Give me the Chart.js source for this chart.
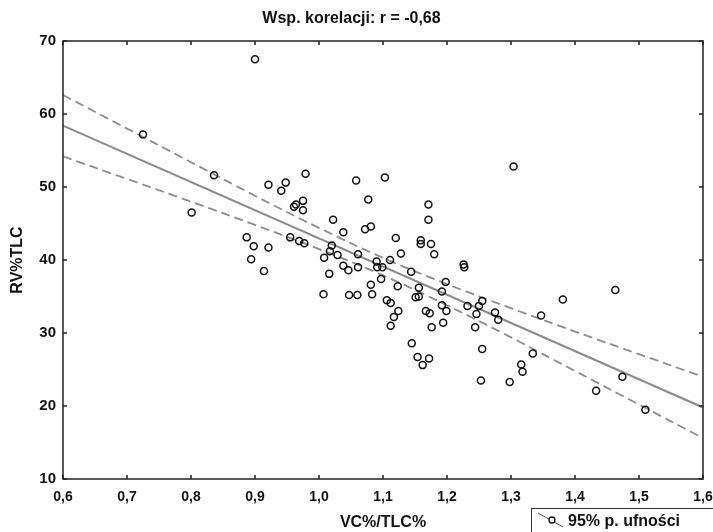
<!DOCTYPE html>
<html lang="pl">
<head>
<meta charset="utf-8">
<title>RV%TLC vs VC%/TLC%</title>
<script src="https://cdn.jsdelivr.net/npm/chart.js@4.4.1/dist/chart.umd.min.js"></script>
<style>
  body { margin: 0; background: #fff; }
  #wrap { width: 713px; height: 532px; }
</style>
</head>
<body>
<div id="wrap"><canvas id="wykres" width="713" height="532"></canvas></div>
<script>
// punkty pomiarowe
const vcTlc = [
  0.725, 0.801, 0.836, 0.887, 0.894, 0.898, 0.900, 0.914, 0.921, 0.921,
  0.941, 0.948, 0.955, 0.961, 0.964, 0.969, 0.975, 0.975, 0.977, 0.979,
  1.007, 1.008, 1.016, 1.017, 1.020, 1.022, 1.029, 1.038, 1.038, 1.046,
  1.047, 1.058, 1.060, 1.061, 1.061, 1.072, 1.077, 1.081, 1.081, 1.083,
  1.090, 1.091, 1.097, 1.099, 1.103, 1.106, 1.111, 1.112, 1.112, 1.117,
  1.120, 1.123, 1.124, 1.128, 1.144, 1.145, 1.151, 1.154, 1.156, 1.156,
  1.159, 1.159, 1.162, 1.167, 1.171, 1.171, 1.172, 1.173, 1.175, 1.176,
  1.180, 1.192, 1.192, 1.194, 1.198, 1.199, 1.226, 1.227, 1.232, 1.244,
  1.246, 1.250, 1.253, 1.255, 1.255, 1.275, 1.280, 1.298, 1.304, 1.316,
  1.318, 1.334, 1.347, 1.381, 1.433, 1.463, 1.474, 1.510
];
const rvTlc = [
  57.2, 46.5, 51.6, 43.1, 40.1, 41.9, 67.5, 38.5, 41.7, 50.3,
  49.5, 50.6, 43.1, 47.3, 47.6, 42.6, 48.1, 46.8, 42.3, 51.8,
  35.3, 40.3, 38.1, 41.2, 42.0, 45.5, 40.7, 43.8, 39.2, 38.6,
  35.2, 50.9, 35.2, 40.8, 39.0, 44.2, 48.3, 44.6, 36.6, 35.3,
  39.8, 39.0, 37.4, 39.0, 51.3, 34.5, 40.0, 34.1, 31.0, 32.2,
  43.0, 36.4, 33.0, 40.9, 38.4, 28.6, 34.9, 26.7, 36.2, 35.0,
  42.7, 42.2, 25.6, 33.0, 47.6, 45.5, 26.5, 32.7, 42.2, 30.8,
  40.8, 35.7, 33.8, 31.4, 37.0, 33.0, 39.4, 39.0, 33.7, 30.8,
  32.6, 33.7, 23.5, 34.4, 27.8, 32.8, 31.8, 23.3, 52.8, 25.7,
  24.7, 27.2, 32.4, 34.6, 22.1, 35.9, 24.0, 19.5
];

// prosta regresji
const liniaX = [0.6, 1.6];
const liniaY = [58.4, 19.8];

// 95% przedział ufności (odczyt co 0,1)
const pasmoX = [0.6, 0.7, 0.8, 0.9, 1.0, 1.1, 1.2, 1.3, 1.4, 1.5, 1.6];
const pasmoGorne = [62.6, 58.0, 53.4, 48.8, 44.4, 40.3, 36.7, 33.4, 30.2, 27.1, 24.0];
const pasmoDolne = [54.2, 51.1, 48.0, 44.8, 41.5, 37.9, 33.8, 29.4, 24.8, 20.2, 15.6];

const tytul = 'Wsp. korelacji: r = -0,68';
const tytulX = 'VC%/TLC%';
const tytulY = 'RV%TLC';
const legendaTekst = '95% p. ufności';

const czcionka = "'Liberation Sans', Arial, sans-serif";
const szary = '#8c8c8c';

const paruj = (xs, ys) => xs.map((x, i) => ({ x, y: ys[i] }));

// ramka z kreskami skierowanymi do środka + legenda na dole
const ramka = {
  id: 'ramka',
  afterDraw(chart) {
    const { ctx, chartArea: a, scales } = chart;
    ctx.save();
    ctx.strokeStyle = '#222';
    ctx.lineWidth = 1.5;
    ctx.strokeRect(a.left, a.top, a.right - a.left, a.bottom - a.top);
    ctx.beginPath();
    scales.x.ticks.forEach(t => {
      const px = scales.x.getPixelForValue(t.value);
      ctx.moveTo(px, a.bottom); ctx.lineTo(px, a.bottom - 4);
      ctx.moveTo(px, a.top); ctx.lineTo(px, a.top + 4);
    });
    scales.y.ticks.forEach(t => {
      const py = scales.y.getPixelForValue(t.value);
      ctx.moveTo(a.left, py); ctx.lineTo(a.left + 4, py);
      ctx.moveTo(a.right, py); ctx.lineTo(a.right - 4, py);
    });
    ctx.stroke();

    // legenda
    ctx.lineWidth = 1;
    ctx.strokeStyle = '#333';
    ctx.strokeRect(531.5, 508.5, 200, 40);
    ctx.strokeStyle = '#555';
    ctx.beginPath();
    ctx.moveTo(538, 513); ctx.lineTo(563, 527);
    ctx.stroke();
    ctx.fillStyle = '#fff';
    ctx.strokeStyle = '#111';
    ctx.lineWidth = 1.3;
    ctx.beginPath();
    ctx.arc(552, 520, 3, 0, Math.PI * 2);
    ctx.fill(); ctx.stroke();
    ctx.fillStyle = '#111';
    ctx.font = 'bold 16px ' + czcionka;
    ctx.textBaseline = 'middle';
    ctx.fillText(legendaTekst, 568, 522);
    ctx.restore();
  }
};

new Chart(document.getElementById('wykres'), {
  type: 'scatter',
  data: {
    datasets: [
      {
        label: 'dane',
        data: paruj(vcTlc, rvTlc),
        pointStyle: 'circle',
        pointRadius: 3.5,
        pointBorderWidth: 1.5,
        borderColor: '#111',
        backgroundColor: 'rgba(0,0,0,0)',
        order: 0
      },
      {
        type: 'line',
        label: 'regresja',
        data: paruj(liniaX, liniaY),
        borderColor: szary,
        borderWidth: 2,
        pointRadius: 0,
        fill: false,
        order: 1
      },
      {
        type: 'line',
        label: 'górna granica',
        data: paruj(pasmoX, pasmoGorne),
        borderColor: szary,
        borderWidth: 1.8,
        borderDash: [9, 5],
        pointRadius: 0,
        tension: 0.4,
        fill: false,
        order: 2
      },
      {
        type: 'line',
        label: 'dolna granica',
        data: paruj(pasmoX, pasmoDolne),
        borderColor: szary,
        borderWidth: 1.8,
        borderDash: [9, 5],
        pointRadius: 0,
        tension: 0.4,
        fill: false,
        order: 2
      }
    ]
  },
  options: {
    responsive: false,
    animation: false,
    layout: { padding: { left: 0, right: 10, top: 0, bottom: 0 } },
    plugins: {
      legend: { display: false },
      tooltip: { enabled: false },
      title: {
        display: true,
        text: tytul,
        color: '#111',
        font: { family: czcionka, size: 16, weight: 'bold' },
        padding: { top: 9.4, bottom: 12.4 }
      }
    },
    scales: {
      x: {
        type: 'linear',
        min: 0.6,
        max: 1.6,
        afterFit: s => { s.height = 53; s.paddingLeft = 0; s.paddingRight = 0; },
        border: { display: false },
        grid: { display: false, drawTicks: false },
        ticks: {
          stepSize: 0.1,
          padding: 10,
          color: '#111',
          font: { family: czcionka, size: 14, weight: 'bold' },
          callback: v => v.toFixed(1).replace('.', ',')
        },
        title: {
          display: true,
          text: tytulX,
          color: '#111',
          font: { family: czcionka, size: 16, weight: 'bold' },
          padding: { top: 0, bottom: 0 }
        }
      },
      y: {
        min: 10,
        max: 70,
        afterFit: s => { s.width = 63; },
        border: { display: false },
        grid: { display: false, drawTicks: false },
        ticks: {
          stepSize: 10,
          padding: 7,
          color: '#111',
          font: { family: czcionka, size: 15, weight: 'bold' }
        },
        title: {
          display: true,
          text: tytulY,
          color: '#111',
          font: { family: czcionka, size: 16, weight: 'bold' },
          padding: { top: 8, bottom: 0 }
        }
      }
    }
  },
  plugins: [ramka]
});
</script>
</body>
</html>
